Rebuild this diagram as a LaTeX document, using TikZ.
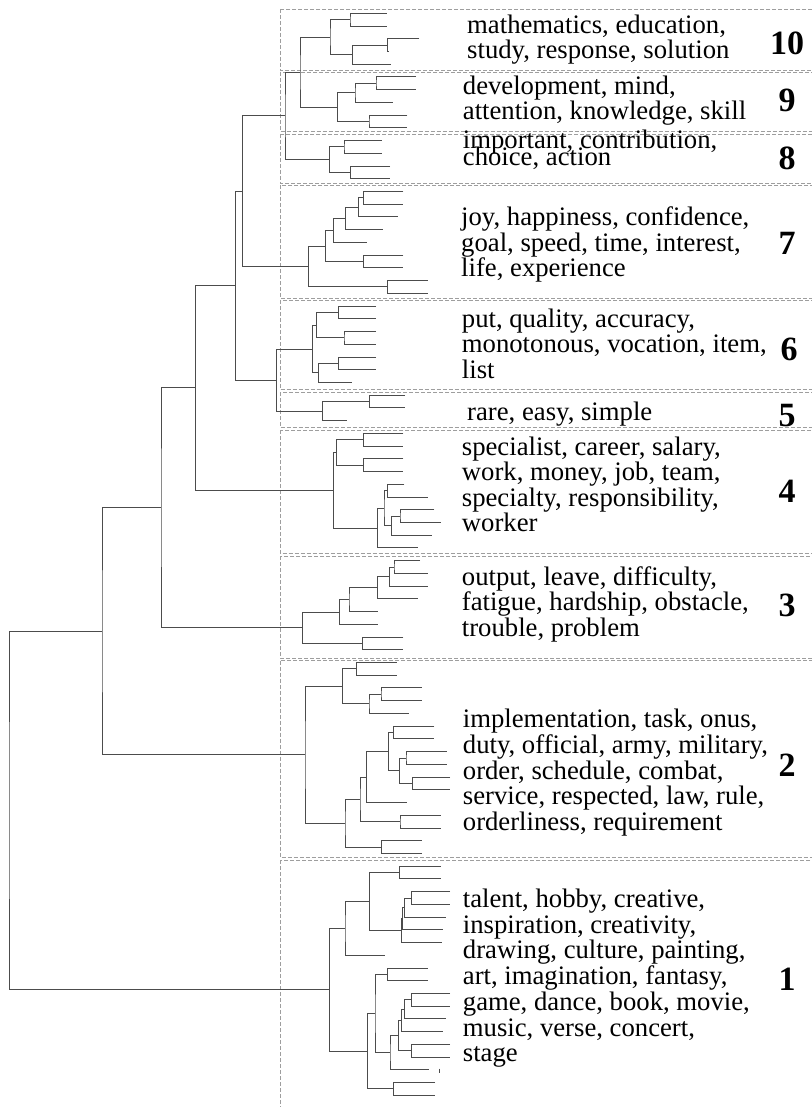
\documentclass[tikz,border=0pt]{standalone}
\usepackage{fontspec}
\setmainfont{Liberation Serif}
\usetikzlibrary{calc}
\newcommand\leafc[3]{\coordinate (#1) at (#3,{13.3+12.73*#2});}
\newcommand\tjoin[4]{\path let \p1=(#3), \p2=(#4) in coordinate (#1) at (#2,{0.5*(\y1+\y2)});
  \draw[tree] (#3) -| (#1) |- (#4);}
\newcommand\lns[2]{\vtop{\baselineskip=#1pt\relax\lineskiplimit=-100pt\relax #2}}
\tikzset{
  tree/.style={draw=black!70, line width=1pt},
  clbox/.style={draw=black!38, line width=0.9pt, dash pattern=on 4pt off 2pt},
  lbl/.style={anchor=base west, inner sep=0pt, font=\fontsize{26.7}{26.7}\selectfont},
  num/.style={anchor=center, inner sep=0pt, font=\fontsize{34}{34}\selectfont\bfseries}
}
\begin{document}
\begin{tikzpicture}[x=1pt,y=-1pt]
\useasboundingbox (0,0) rectangle (811,1107);
% cluster boxes
\draw[clbox] (280,9) rectangle (815,70);
\draw[clbox] (280,72) rectangle (815,131.5);
\draw[clbox] (280,134) rectangle (815,183);
\draw[clbox] (280,185) rectangle (815,298);
\draw[clbox] (280,300) rectangle (815,389.5);
\draw[clbox] (280,392) rectangle (815,427.5);
\draw[clbox] (280,430) rectangle (815,553.5);
\draw[clbox] (280,556) rectangle (815,658);
\draw[clbox] (280,660.5) rectangle (815,857);
\draw[clbox] (280,860) rectangle (815,1115);
% cluster 10
\leafc{k10a}{0}{386.7}\leafc{k10b}{1}{386.7}\leafc{k10c}{2}{419.3}\leafc{k10d}{3}{389.3}\leafc{k10e}{4}{390.7}
\tjoin{n10a}{350}{k10a}{k10b}
\tjoin{n10b}{387.3}{k10c}{k10d}
\tjoin{n10c}{352.7}{n10b}{k10e}
\tjoin{c10}{330}{n10a}{n10c}
% cluster 9
\leafc{k9a}{5}{416}\leafc{k9b}{6}{416}\leafc{k9c}{7}{392.7}\leafc{k9d}{8}{407.3}\leafc{k9e}{9}{407.3}
\tjoin{n9a}{376}{k9a}{k9b}
\tjoin{n9b}{355}{n9a}{k9c}
\tjoin{n9c}{369}{k9d}{k9e}
\tjoin{c9}{337.7}{n9b}{n9c}
% cluster 8
\leafc{k8a}{10}{381.7}\leafc{k8b}{11}{381.7}\leafc{k8c}{12}{390}\leafc{k8d}{13}{390}
\tjoin{n8a}{344}{k8a}{k8b}
\tjoin{n8b}{350.7}{k8c}{k8d}
\tjoin{c8}{329.3}{n8a}{n8b}
% cluster 7
\leafc{k7a}{14}{403.3}\leafc{k7b}{15}{403.3}\leafc{k7c}{16}{398.3}\leafc{k7d}{17}{382.7}\leafc{k7e}{18}{367.3}
\leafc{k7f}{19}{403.3}\leafc{k7g}{20}{403.3}\leafc{k7h}{21}{427.7}\leafc{k7i}{22}{427.7}
\tjoin{n7a}{363.3}{k7a}{k7b}
\tjoin{n7b}{358.3}{n7a}{k7c}
\tjoin{n7c}{345.7}{n7b}{k7d}
\tjoin{n7d}{333.3}{n7c}{k7e}
\tjoin{n7e}{363.3}{k7f}{k7g}
\tjoin{n7f}{325.3}{n7d}{n7e}
\tjoin{n7g}{387.3}{k7h}{k7i}
\tjoin{c7}{308.7}{n7f}{n7g}
% cluster 6
\leafc{k6a}{23}{376}\leafc{k6b}{24}{376}\leafc{k6c}{25}{376}\leafc{k6d}{26}{376}\leafc{k6e}{27}{376}\leafc{k6f}{28}{376}\leafc{k6g}{29}{351.7}
\tjoin{n6a}{338.3}{k6a}{k6b}
\tjoin{n6b}{344}{k6c}{k6d}
\tjoin{n6c}{316.7}{n6a}{n6b}
\tjoin{n6d}{338.3}{k6e}{k6f}
\tjoin{n6e}{318.3}{n6d}{k6g}
\tjoin{c6}{312.7}{n6c}{n6e}
% cluster 5
\leafc{k5a}{30}{405}\leafc{k5b}{31}{405}\leafc{k5c}{32}{347.3}
\tjoin{n5a}{369.3}{k5a}{k5b}
\tjoin{c5}{322.7}{n5a}{k5c}
% cluster 4
\leafc{k4a}{33}{403.3}\leafc{k4b}{34}{403.3}\leafc{k4c}{35}{403.3}\leafc{k4d}{36}{403.3}\leafc{k4e}{37}{404.3}
\leafc{k4f}{38}{427.7}\leafc{k4g}{39}{434.3}\leafc{k4h}{40}{440.7}\leafc{k4i}{41}{432.3}\leafc{k4j}{42}{418.3}
\tjoin{n4a}{363.3}{k4a}{k4b}
\tjoin{n4b}{363.3}{k4c}{k4d}
\tjoin{n4c}{336.7}{n4a}{n4b}
\tjoin{n4d}{387.3}{k4e}{k4f}
\tjoin{n4e}{400}{k4g}{k4h}
\tjoin{n4f}{391.7}{n4e}{k4i}
\tjoin{n4g}{384}{n4d}{n4f}
\tjoin{n4h}{377.7}{n4g}{k4j}
\tjoin{c4}{333.3}{n4c}{n4h}
% cluster 3
\leafc{k3a}{43}{420}\leafc{k3b}{44}{428.3}\leafc{k3c}{45}{428.3}\leafc{k3d}{46}{418.3}
\leafc{k3e}{47}{377.7}\leafc{k3f}{48}{377.7}\leafc{k3g}{49}{403.3}\leafc{k3h}{50}{403.3}
\tjoin{n3a}{394}{k3a}{k3b}
\tjoin{n3b}{389.3}{n3a}{k3c}
\tjoin{n3c}{377.7}{n3b}{k3d}
\tjoin{n3d}{349}{n3c}{k3e}
\tjoin{n3e}{339.3}{n3d}{k3f}
\tjoin{n3f}{362.7}{k3g}{k3h}
\tjoin{c3}{302.3}{n3e}{n3f}
% cluster 2
\leafc{k2a}{51}{396.7}\leafc{k2b}{52}{396.7}\leafc{k2c}{53}{421.7}\leafc{k2d}{54}{421.7}\leafc{k2e}{55}{409.3}
\leafc{k2f}{56}{434.3}\leafc{k2g}{57}{434.3}\leafc{k2h}{58}{446.7}\leafc{k2i}{59}{446.7}\leafc{k2j}{60}{450}
\leafc{k2k}{61}{450}\leafc{k2l}{62}{406.7}\leafc{k2m}{63}{440.7}\leafc{k2n}{64}{440.7}\leafc{k2o}{65}{421.7}\leafc{k2p}{66}{421.7}
\tjoin{n2a}{356.7}{k2a}{k2b}
\tjoin{n2b}{381}{k2c}{k2d}
\tjoin{n2c}{369}{n2b}{k2e}
\tjoin{n2d}{342.7}{n2a}{n2c}
\tjoin{n2e}{393.3}{k2f}{k2g}
\tjoin{n2f}{406}{k2h}{k2i}
\tjoin{n2g}{412.3}{k2j}{k2k}
\tjoin{n2h}{399.3}{n2f}{n2g}
\tjoin{n2i}{388.3}{n2e}{n2h}
\tjoin{n2j}{366.7}{n2i}{k2l}
\tjoin{n2k}{400}{k2m}{k2n}
\tjoin{n2l}{360}{n2j}{n2k}
\tjoin{n2m}{381.7}{k2o}{k2p}
\tjoin{n2n}{345}{n2l}{n2m}
\tjoin{c2}{305}{n2d}{n2n}
% cluster 1
\leafc{k1a}{67}{440.7}\leafc{k1b}{68}{440.7}\leafc{k1c}{69}{450}\leafc{k1d}{70}{450}\leafc{k1e}{71}{446}
\leafc{k1f}{72}{442.7}\leafc{k1g}{73}{441.7}\leafc{k1h}{74}{385}\leafc{k1i}{75}{427.7}\leafc{k1j}{76}{427.7}
\leafc{k1k}{77}{450}\leafc{k1l}{78}{450}\leafc{k1m}{79}{446}\leafc{k1n}{80}{442.7}\leafc{k1o}{81}{450}
\leafc{k1p}{82}{450}\leafc{k1q}{83}{429.3}\leafc{k1r}{84}{435}\leafc{k1s}{85}{435}
\tjoin{n1a}{399.3}{k1a}{k1b}
\tjoin{n1b}{411.7}{k1c}{k1d}
\tjoin{n1c}{404.3}{n1b}{k1e}
\tjoin{n1d}{402.7}{n1c}{k1f}
\tjoin{n1e}{401.7}{n1d}{k1g}
\tjoin{n1f}{369.3}{n1a}{n1e}
\tjoin{n1g}{345}{n1f}{k1h}
\tjoin{n1h}{387.7}{k1i}{k1j}
\tjoin{n1i}{411.7}{k1k}{k1l}
\tjoin{n1j}{404.3}{n1i}{k1m}
\tjoin{n1k}{401.7}{n1j}{k1n}
\tjoin{n1l}{411.7}{k1o}{k1p}
\tjoin{n1m}{398.3}{n1k}{n1l}
\tjoin{n1n}{390}{n1m}{k1q}
\tjoin{n1o}{375}{n1h}{n1n}
\tjoin{n1p}{393.3}{k1r}{k1s}
\tjoin{n1q}{367.7}{n1o}{n1p}
\tjoin{c1}{329.3}{n1g}{n1q}
\coordinate (tk1) at (439.3,1068.5);
\coordinate (tk2) at (439.3,1073);
\draw[tree,line width=0.6pt] (tk1) -- (tk2);
% upper levels
\tjoin{u1}{300}{c10}{c9}
\tjoin{u2}{285}{u1}{c8}
\tjoin{u3}{242.7}{u2}{c7}
\tjoin{u4}{276.3}{c6}{c5}
\tjoin{u5}{235.3}{u3}{u4}
\tjoin{u6}{195.7}{u5}{c4}
\tjoin{u7}{161}{u6}{c3}
\tjoin{u8}{102}{u7}{c2}
\tjoin{root}{9}{u8}{c1}
% labels
\node[lbl] (t10) at (467,34) {\lns{25}{\hbox{mathematics, education,}\hbox{study, response, solution}}};
\node[lbl] (t9) at (462.7,94.3) {\lns{25}{\hbox{development, mind,}\hbox{attention, knowledge, skill}}};
\node[lbl] (t8) at (462.7,149) {\lns{17}{\hbox{important, contribution,}\hbox{choice, action}}};
\node[lbl] (t7) at (461,225.5) {\lns{25.7}{\hbox{joy, happiness, confidence,}\hbox{goal, speed, time, interest,}\hbox{life, experience}}};
\node[lbl] (t6) at (461.7,327) {\lns{25.7}{\hbox{put, quality, accuracy,}\hbox{monotonous, vocation, item,}\hbox{list}}};
\node[lbl] (t5) at (467,420.7) {rare, easy, simple};
\node[lbl] (t4) at (461.7,455.3) {\lns{25.5}{\hbox{specialist, career, salary,}\hbox{work, money, job, team,}\hbox{specialty, responsibility,}\hbox{worker}}};
\node[lbl] (t3) at (461.7,585) {\lns{25.8}{\hbox{output, leave, difficulty,}\hbox{fatigue, hardship, obstacle,}\hbox{trouble, problem}}};
\node[lbl] (t2) at (462.7,727.5) {\lns{25.8}{\hbox{implementation, task, onus,}\hbox{duty, official, army, military,}\hbox{order, schedule, combat,}\hbox{service, respected, law, rule,}\hbox{orderliness, requirement}}};
\node[lbl] (t1) at (462.7,907.5) {\lns{25.7}{\hbox{talent, hobby, creative,}\hbox{inspiration, creativity,}\hbox{drawing, culture, painting,}\hbox{art, imagination, fantasy,}\hbox{game, dance, book, movie,}\hbox{music, verse, concert,}\hbox{stage}}};
% cluster numbers
\node[num] (m10) at (787,43) {10};
\node[num] (m9) at (787,100.5) {9};
\node[num] (m8) at (787,158.3) {8};
\node[num] (m7) at (787,243.3) {7};
\node[num] (m6) at (789,349.5) {6};
\node[num] (m5) at (787,415.5) {5};
\node[num] (m4) at (787,491.5) {4};
\node[num] (m3) at (787,605.5) {3};
\node[num] (m2) at (787,765) {2};
\node[num] (m1) at (787,979) {1};
\end{tikzpicture}
\end{document}
